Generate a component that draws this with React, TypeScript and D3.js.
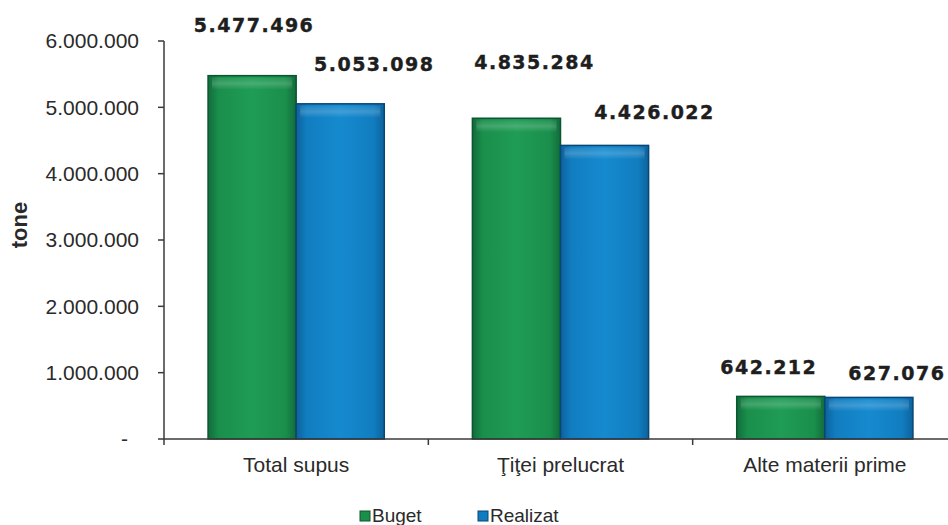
import React from 'react';
import * as d3 from 'd3';

const categories = ['Total supus', 'Ţiţei prelucrat', 'Alte materii prime'];
const seriesNames = ['Buget', 'Realizat'];
const buget = [5477496, 4835284, 642212];
const realizat = [5053098, 4426022, 627076];
const yTicks = [0, 1000000, 2000000, 3000000, 4000000, 5000000, 6000000];

// label nudges (dx, dy from the bar top centre), as placed by hand in the source
const labelNudge = [
  [[2, -50], [34, -39]],
  [[18, -56], [50, -33]],
  [[-12, -29], [28, -24]],
];

const W = 948;
const H = 525;
const left = 164;
const right = 957;
const top = 41;
const bottom = 439;

const colors = [
  { edge: '#0c5530', dark: '#116c3b', mid: '#1a8f4c', light: '#1f9c55' },
  { edge: '#0a4674', dark: '#0c629c', mid: '#117dc0', light: '#168acf' },
];

const locale = d3.formatLocale({ decimal: ',', thousands: '.', grouping: [3], currency: ['', ''] });
const fmt = locale.format(',d');

export default function App() {
  const x0 = d3.scaleBand<string>().domain(categories).range([left, right]).paddingInner(1 / 3).paddingOuter(1 / 6);
  const x1 = d3.scaleBand<string>().domain(seriesNames).range([0, x0.bandwidth()]);
  const y = d3.scaleLinear().domain([0, 6000000]).range([bottom, top]);
  const step = x0.step();
  const series = [buget, realizat];

  return (
    <svg width={W} height={H} style={{ position: 'absolute', left: 0, top: 0, background: '#fff' }}>
      <defs>
        {colors.map((c, i) => (
          <linearGradient key={i} id={`g${i}`} x1="0" x2="1" y1="0" y2="0">
            <stop offset="0" stopColor={c.dark} />
            <stop offset="0.12" stopColor={c.mid} />
            <stop offset="0.5" stopColor={c.light} />
            <stop offset="0.88" stopColor={c.mid} />
            <stop offset="1" stopColor={c.dark} />
          </linearGradient>
        ))}
        <linearGradient id="shine" x1="0" x2="0" y1="0" y2="1">
          <stop offset="0" stopColor="#fff" stopOpacity="0.05" />
          <stop offset="0.5" stopColor="#fff" stopOpacity="0.18" />
          <stop offset="1" stopColor="#fff" stopOpacity="0" />
        </linearGradient>
      </defs>

      {/* y axis */}
      <line x1={left} x2={left} y1={top} y2={bottom} stroke="#3a3a3a" strokeWidth={1.5} />
      {yTicks.map(t => (
        <g key={t}>
          <line x1={left - 6} x2={left} y1={y(t)} y2={y(t)} stroke="#3a3a3a" strokeWidth={1.5} />
          <text
            x={t === 0 ? 128 : 139}
            y={y(t)}
            dy="0.35em"
            textAnchor="end"
            fontFamily="'Liberation Sans', Arial, sans-serif"
            fontSize={21}
            fill="#2a2a2a"
          >
            {t === 0 ? '-' : fmt(t)}
          </text>
        </g>
      ))}
      <text
        transform={`translate(27,225) rotate(-90)`}
        textAnchor="middle"
        fontFamily="'Liberation Sans', Arial, sans-serif"
        fontWeight="bold"
        fontSize={22}
        fill="#2a2a2a"
      >
        tone
      </text>

      {/* bars */}
      {categories.map((cat, ci) => (
        <g key={cat} transform={`translate(${x0(cat)},0)`}>
          {seriesNames.map((s, si) => {
            const v = series[si][ci];
            const bx = x1(s)!;
            const bw = x1.bandwidth();
            const by = y(v);
            const bh = bottom - by;
            return (
              <g key={s}>
                <rect x={bx} y={by} width={bw} height={bh} fill={`url(#g${si})`} stroke={colors[si].edge} strokeWidth={1.5} />
                <rect x={bx + 4} y={by + 2} width={bw - 8} height={Math.min(12, bh - 4)} fill="url(#shine)" />
              </g>
            );
          })}
        </g>
      ))}

      {/* x axis */}
      <line x1={left} x2={W} y1={bottom} y2={bottom} stroke="#3a3a3a" strokeWidth={1.5} />
      {d3.range(categories.length + 1).map(i => (
        <line key={i} x1={left + i * step} x2={left + i * step} y1={bottom} y2={bottom + 6} stroke="#3a3a3a" strokeWidth={1.5} />
      ))}
      {categories.map(cat => (
        <text
          key={cat}
          x={x0(cat)! + x0.bandwidth() / 2}
          y={472}
          textAnchor="middle"
          fontFamily="'Liberation Sans', Arial, sans-serif"
          fontSize={21}
          fill="#2a2a2a"
        >
          {cat}
        </text>
      ))}

      {/* value labels */}
      {categories.map((cat, ci) =>
        seriesNames.map((s, si) => {
          const v = series[si][ci];
          const [dx, dy] = labelNudge[ci][si];
          return (
            <text
              key={cat + s}
              x={x0(cat)! + x1(s)! + x1.bandwidth() / 2 + dx}
              y={y(v) + dy}
              dy="0.35em"
              textAnchor="middle"
              fontFamily="'DejaVu Sans', Verdana, sans-serif"
              fontWeight="bold"
              fontSize={19}
              letterSpacing={1.5}
              fill="#1e1e1e"
              stroke="#1e1e1e"
              strokeWidth={0.4}
            >
              {fmt(v)}
            </text>
          );
        })
      )}

      {/* legend */}
      {seriesNames.map((s, si) => {
        const lx = si === 0 ? 360 : 478;
        return (
          <g key={s}>
            <rect x={lx} y={511} width={10} height={10} fill={colors[si].mid} stroke={colors[si].edge} strokeWidth={1} />
            <text x={lx + 12} y={522} fontFamily="'Liberation Sans', Arial, sans-serif" fontSize={19} fill="#2a2a2a">
              {s}
            </text>
          </g>
        );
      })}
    </svg>
  );
}
